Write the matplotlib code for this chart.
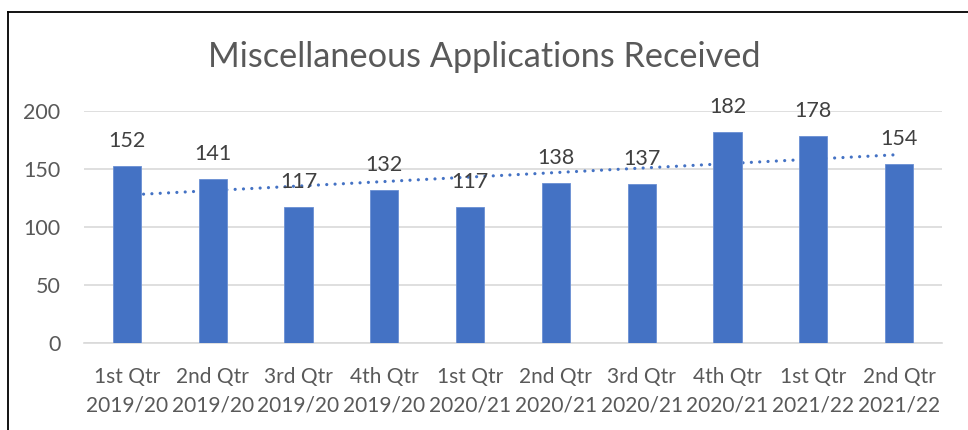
import numpy as np
import matplotlib.pyplot as plt
from matplotlib.lines import Line2D

plt.rcParams['font.family'] = ['Lato', 'DejaVu Sans']

# data
quarters = ['1st Qtr\n2019/20', '2nd Qtr\n2019/20', '3rd Qtr\n2019/20', '4th Qtr\n2019/20',
            '1st Qtr\n2020/21', '2nd Qtr\n2020/21', '3rd Qtr\n2020/21', '4th Qtr\n2020/21',
            '1st Qtr\n2021/22', '2nd Qtr\n2021/22']
received = [152, 141, 117, 132, 117, 138, 137, 182, 178, 154]
yticks = [0, 50, 100, 150, 200]

blue = '#4472C4'
grey = '#595959'

fig = plt.figure(figsize=(9.68, 4.3), dpi=100)
ax = fig.add_axes([84 / 968, 1 - 343 / 430, 858 / 968, (343 - 110.7) / 430])

x = np.arange(len(received))

# linear trendline (behind the bars)
k, b = np.polyfit(x, received, 1)
ax.plot(x, k * x + b, color=blue, lw=2.3, linestyle=(0, (0.01, 2.6)),
        dash_capstyle='round', zorder=2)

ax.bar(x, received, width=0.33, color=blue, edgecolor='#6a8fd3', linewidth=0.6, zorder=3)

for xi, v in zip(x, received):
    ax.annotate(str(v), (xi, v), xytext=(0, 18), textcoords='offset points',
                ha='center', va='center', fontsize=15.5, color='#404040', zorder=5)

ax.set_xlim(-0.5, len(received) - 0.5)
ax.set_ylim(0, 200)
ax.set_yticks(yticks)
ax.set_xticks(x)
ax.set_xticklabels(quarters, linespacing=1.55)
ax.yaxis.grid(True, color='#D9D9D9', lw=1.2, zorder=0)
ax.set_axisbelow(True)
for s in ['top', 'right', 'left']:
    ax.spines[s].set_visible(False)
ax.spines['bottom'].set_color('#D9D9D9')
ax.spines['bottom'].set_linewidth(1.2)
ax.tick_params(axis='both', length=0, labelsize=15, labelcolor=grey)
ax.tick_params(axis='y', pad=17, labelsize=15.5)
ax.tick_params(axis='x', pad=17)

fig.text(0.5, 1 - 57 / 430, 'Miscellaneous Applications Received', ha='center', va='center',
         fontsize=24.7, color=grey)

# frame of the screenshot (left and top edges)
fig.add_artist(Line2D([8 / 968, 8 / 968], [0, 1 - 12 / 430], color='black', lw=1.3))
fig.add_artist(Line2D([8 / 968, 1], [1 - 12 / 430, 1 - 12 / 430], color='black', lw=1.3))

fig.savefig('out.png', dpi=100)
